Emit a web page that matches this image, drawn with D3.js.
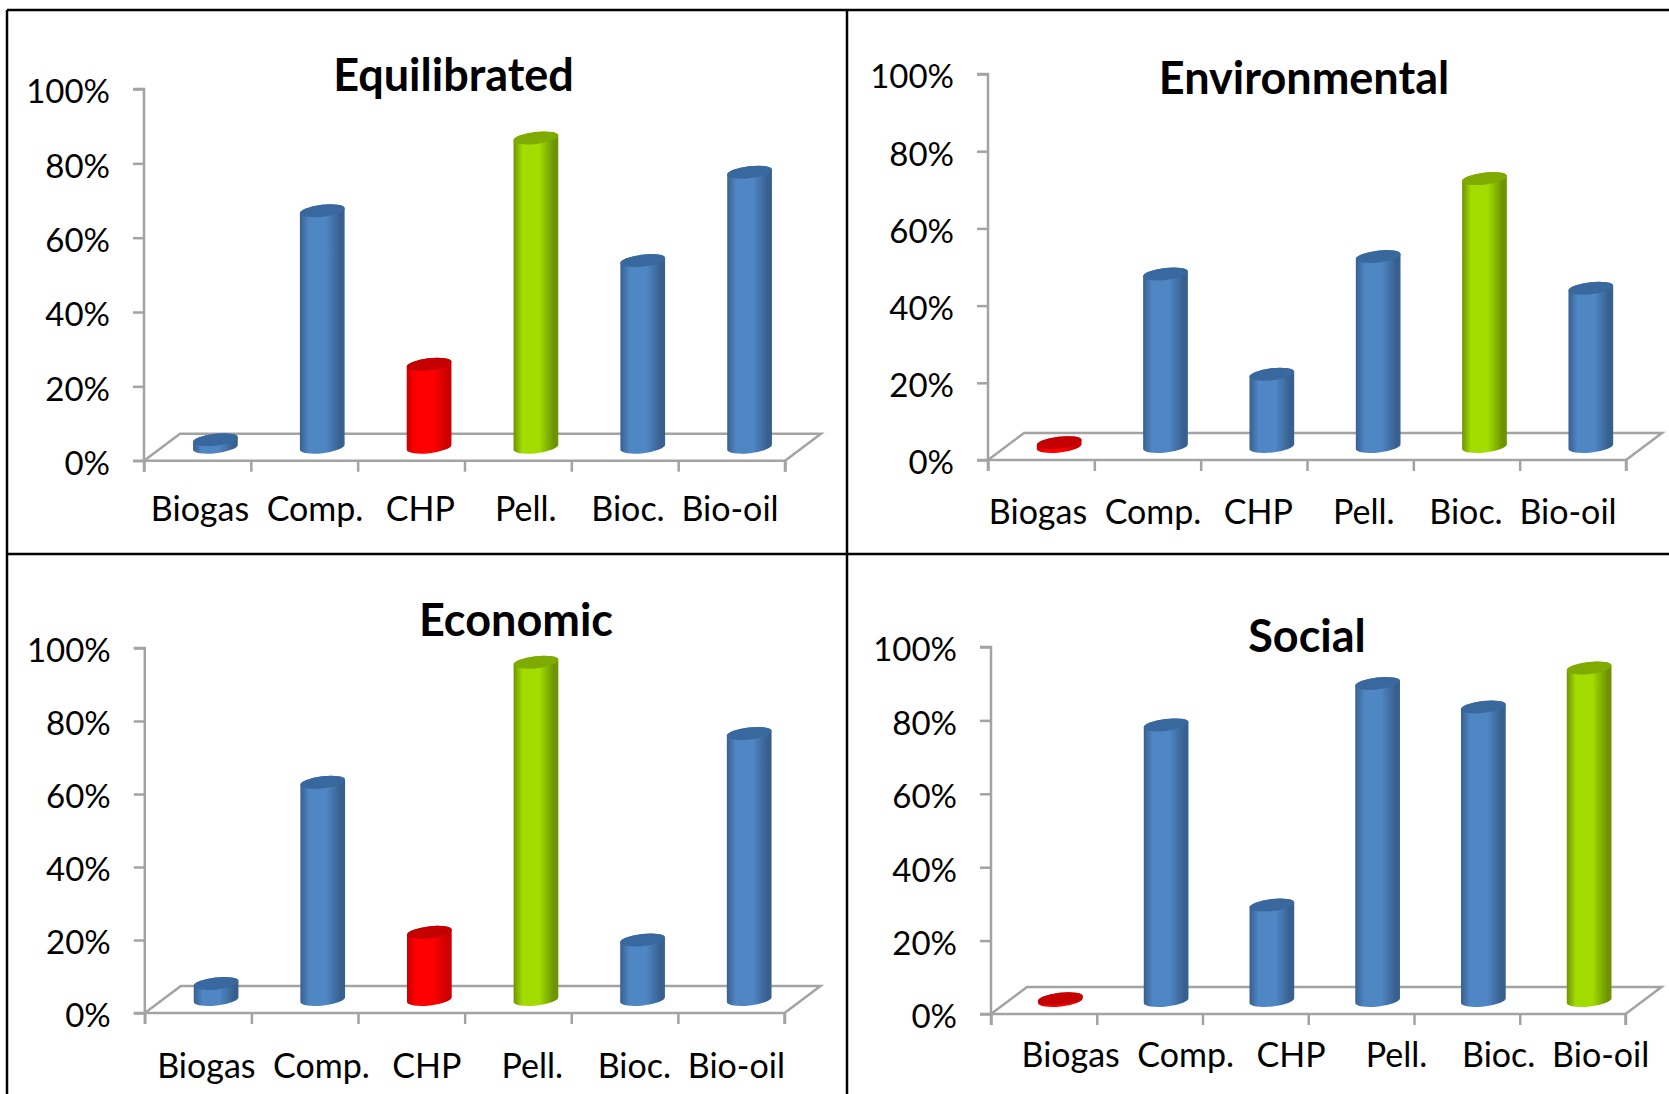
<!DOCTYPE html>
<html>
<head>
<meta charset="utf-8">
<title>Biomass options by scenario</title>
<script src="https://cdn.jsdelivr.net/npm/d3@7/dist/d3.min.js"></script>
<style>
  html, body { margin: 0; padding: 0; background: #fff; }
  svg { display: block; }
  text { font-family: Lato, "Open Sans", sans-serif; fill: #000; }
</style>
</head>
<body>
<svg id="chart" width="1669" height="1094"></svg>
<script>
// Option names along the horizontal axis
const categories = ["Biogas", "Comp.", "CHP", "Pell.", "Bioc.", "Bio-oil"];
const yTicks = [0, 20, 40, 60, 80, 100];

// Scores per scenario, in percent
const equilibrated = [2, 63.6, 22.3, 83.2, 50.2, 74];
const environmental = [1, 44.7, 18.7, 49.2, 69.4, 41];
const economic = [4.4, 59.5, 18.4, 92.4, 16.3, 72.9];
const social = [0.5, 75.1, 26, 86.4, 80, 90.6];

// Colour role of each bar: worst option, best option, or the rest
const equilibratedRoles = ["mid", "mid", "low", "high", "mid", "mid"];
const environmentalRoles = ["low", "mid", "mid", "mid", "high", "mid"];
const economicRoles = ["mid", "mid", "low", "high", "mid", "mid"];
const socialRoles = ["low", "mid", "mid", "mid", "mid", "high"];

// Panel frames and titles
const panels = [
  { title: "Equilibrated", values: equilibrated, roles: equilibratedRoles, depthX: 36,
    x0: 144, x1: 785, y0: 460.7, y100: 89, titleX: 453.5, titleY: 90.7, labelY: 521, labelShift: 0 },
  { title: "Environmental", values: environmental, roles: environmentalRoles, depthX: 36,
    x0: 988, x1: 1626, y0: 460, y100: 74, titleX: 1304, titleY: 94, labelY: 524, labelShift: 838 },
  { title: "Economic", values: economic, roles: economicRoles, depthX: 36,
    x0: 144.8, x1: 784.5, y0: 1013, y100: 648, titleX: 516, titleY: 635.6, labelY: 1078, labelShift: 6.4 },
  { title: "Social", values: social, roles: socialRoles, depthX: 33,
    x0: 991, x1: 1625.5, y0: 1014, y100: 647, titleX: 1307, titleY: 651.7, labelY: 1067, labelShift: 870.7 }
];

// Shared drawing constants
const labelCentres = [200, 315, 420.4, 525.8, 628, 730];
const floorRise = -27;
const barRx = 22.5, barRy = 6, barTilt = -6.5;
const palette = {
  mid:  { edge: "#38608f", centre: "#4f86c4", cap: "#39689e" },
  low:  { edge: "#cc0000", centre: "#ff0000", cap: "#c40000" },
  high: { edge: "#6d9400", centre: "#a2dc00", cap: "#7fab00" }
};
const axisGrey = "#a3a3a3";

const svg = d3.select("#chart");

// Horizontal shading that gives the bars their round look
const defs = svg.append("defs");
Object.entries(palette).forEach(([role, c]) => {
  const g = defs.append("linearGradient").attr("id", "body-" + role);
  [[0, c.edge], [0.2, c.centre], [0.58, c.centre], [0.9, c.edge], [1, c.edge]].forEach(([o, col]) =>
    g.append("stop").attr("offset", o).attr("stop-color", col));
});

// Builds a tilted cylinder outline between two centre points
function cylinderPath(cx, yTop, yBase) {
  const t = barTilt * Math.PI / 180;
  const dx = barRx * Math.cos(t), dy = barRx * Math.sin(t);
  return `M${cx - dx},${yTop - dy} L${cx - dx},${yBase - dy}` +
    ` A${barRx},${barRy} ${barTilt} 0 0 ${cx + dx},${yBase + dy}` +
    ` L${cx + dx},${yTop + dy}` +
    ` A${barRx},${barRy} ${barTilt} 0 0 ${cx - dx},${yTop - dy} Z`;
}

panels.forEach(p => {
  const g = svg.append("g");
  const y = d3.scaleLinear().domain([0, 100]).range([p.y0, p.y100]);
  const xEdge = d3.scaleLinear().domain([0, categories.length]).range([p.x0, p.x1]);
  const x = d3.scaleBand().domain(categories).range([p.x0, p.x1]);

  // Floor outline
  g.append("path")
    .attr("fill", "none").attr("stroke", axisGrey).attr("stroke-width", 2.5)
    .attr("d", `M${p.x0},${p.y0} L${p.x0 + 36},${p.y0 + floorRise}` +
      ` L${p.x1 + 36},${p.y0 + floorRise} L${p.x1},${p.y0}`);

  // Vertical axis
  const yAxis = g.append("g").attr("transform", `translate(${p.x0},0)`)
    .call(d3.axisLeft(y).tickValues(yTicks).tickSize(11).tickPadding(23).tickFormat(d => d + "%"));
  yAxis.selectAll("path,line").attr("stroke", axisGrey).attr("stroke-width", 2.5);
  yAxis.select(".domain").attr("d", `M-11,${p.y100} H0 V${p.y0} H-11`).attr("fill", "none");
  yAxis.selectAll("text").attr("font-size", 33).attr("font-family", "Lato").attr("fill", "#000").attr("dy", "0.42em");

  // Horizontal axis, ticks between the categories
  const xAxis = g.append("g").attr("transform", `translate(0,${p.y0})`)
    .call(d3.axisBottom(xEdge).tickValues(d3.range(categories.length + 1)).tickSize(11).tickFormat(""));
  xAxis.selectAll("path,line").attr("stroke", axisGrey).attr("stroke-width", 2.5);
  xAxis.select(".domain").attr("d", `M${p.x0},11 V0 H${p.x1} V11`).attr("fill", "none");

  // Cylinders stand halfway into the floor depth
  const bars = g.selectAll("g.bar").data(categories).enter().append("g").attr("class", "bar");
  const cx = d => x(d) + x.bandwidth() / 2 + p.depthX / 2;
  const lift = v => y(v) + floorRise / 2;
  bars.append("path")
    .attr("d", (d, i) => cylinderPath(cx(d), lift(p.values[i]), lift(0)))
    .attr("fill", (d, i) => `url(#body-${p.roles[i]})`);
  bars.append("ellipse")
    .attr("rx", barRx).attr("ry", barRy)
    .attr("transform", (d, i) => `translate(${cx(d)},${lift(p.values[i])}) rotate(${barTilt})`)
    .attr("fill", (d, i) => palette[p.roles[i]].cap);

  // Category names
  g.selectAll("text.cat").data(categories).enter().append("text")
    .attr("class", "cat")
    .attr("x", (d, i) => labelCentres[i] + p.labelShift)
    .attr("y", p.labelY)
    .attr("text-anchor", "middle")
    .attr("font-size", 34)
    .text(d => d);

  // Panel title
  g.append("text")
    .attr("x", p.titleX).attr("y", p.titleY)
    .attr("text-anchor", "middle")
    .attr("font-size", 45).attr("font-weight", 700)
    .text(p.title);
});

// Black grid separating the four panels
const frame = [
  [7, 10, 1669, 10],
  [7, 10, 7, 1094],
  [847, 10, 847, 1094],
  [7, 554, 1669, 554]
];
svg.selectAll("line.frame").data(frame).enter().append("line")
  .attr("class", "frame")
  .attr("x1", d => d[0]).attr("y1", d => d[1]).attr("x2", d => d[2]).attr("y2", d => d[3])
  .attr("stroke", "#000").attr("stroke-width", 2.5);
</script>
</body>
</html>
